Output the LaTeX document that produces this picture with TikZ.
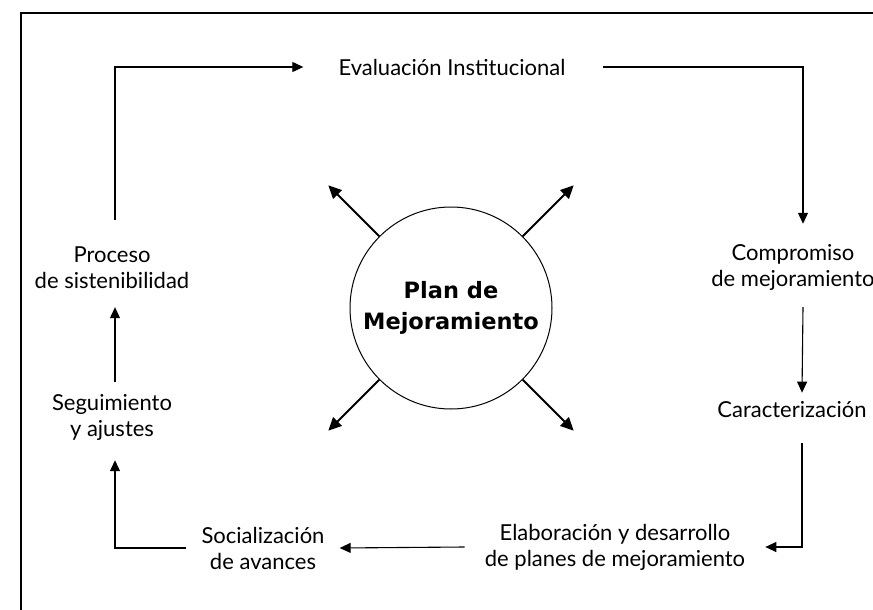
\documentclass[tikz,border=0pt]{standalone}
\usepackage{fontspec}
\setmainfont{Lato}
\newfontfamily\hubfont{DejaVu Sans}
\usetikzlibrary{arrows.meta}

\begin{document}
\begin{tikzpicture}[
  x=1pt, y=-1pt,
  lbl/.style={font=\fontsize{22}{26}\selectfont, align=center, inner sep=0pt},
  hub/.style={draw, circle, minimum size=202pt, inner sep=0pt, line width=1pt,
              font=\hubfont\bfseries\fontsize{22.5}{31}\selectfont, align=center},
  arr/.style={-{Triangle[length=11pt, width=10pt]}, line width=1.1pt},
  ray/.style={-{Triangle[length=13pt, width=12pt]}, line width=2pt}
]
  \fill[white] (0,0) rectangle (873,610);
  \useasboundingbox (0,0) rectangle (873,610);
  \draw[line width=1.1pt] (21,610) -- (21,13) -- (873,13);

  \node[hub] (plan) at (451,308) {Plan de\\Mejoramiento};

  \node[lbl] (eval) at (452,67) {Evaluación Institucional};
  \node[lbl] (comp) at (793,267) {Compromiso\\de mejoramiento};
  \node[lbl] (carac) at (792,410) {Caracterización};
  \node[lbl] (elab) at (615,547) {Elaboración y desarrollo\\de planes de mejoramiento};
  \node[lbl] (soc) at (263,548) {Socialización\\de avances};
  \node[lbl] (seg) at (112,417) {Seguimiento\\y ajustes};
  \node[lbl] (proc) at (112,268) {Proceso\\de sistenibilidad};

  % ciclo
  \draw[arr] ([xshift=3pt, yshift=27pt]proc.north) |- ([xshift=-35pt]eval.west);
  \draw[arr] ([xshift=37pt]eval.east) -| ([xshift=10pt, yshift=20pt]comp.north);
  \draw[arr] ([xshift=10pt, yshift=-17pt]comp.south) -- ([xshift=10pt, yshift=9pt]carac.north);
  \draw[arr] ([xshift=10pt, yshift=-25pt]carac.south) |- ([xshift=20pt]elab.east);
  \draw[arr] ([xshift=-20pt]elab.west) -- ([xshift=15pt]soc.east);
  \draw[arr] ([xshift=-15pt]soc.west) -| ([xshift=3pt, yshift=-20pt]seg.south);
  \draw[arr] ([xshift=3pt, yshift=12pt]seg.north) -- ([xshift=3pt, yshift=-18pt]proc.south);

  % flechas del centro
  \foreach \a in {45,135,225,315}
    \draw[ray] (plan.\a) -- ++(\a:72pt);
\end{tikzpicture}
\end{document}
